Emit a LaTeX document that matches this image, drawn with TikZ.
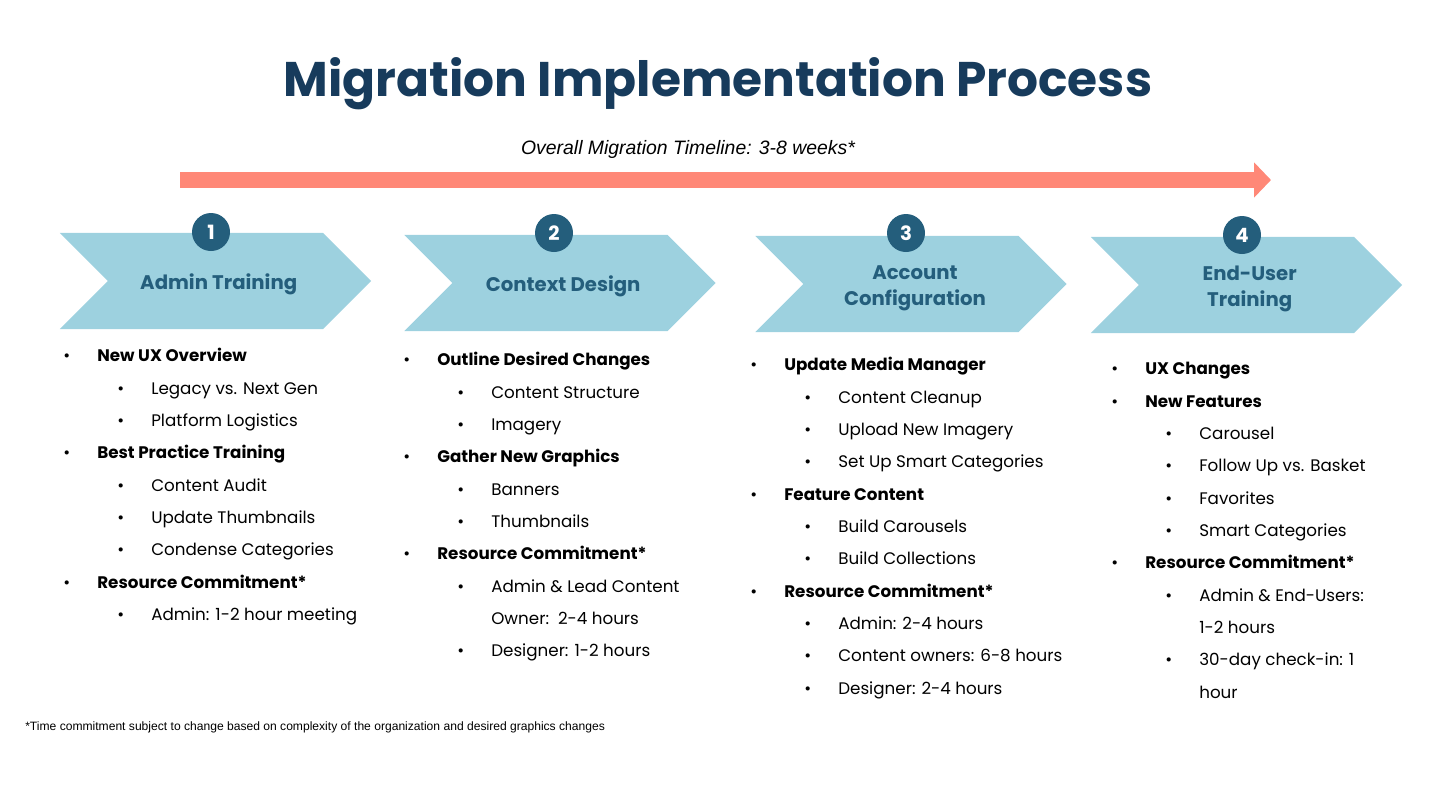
\documentclass[tikz,border=0pt]{standalone}
\usepackage{fontspec}
\setmainfont{Poppins}
\newfontfamily\arialfont{Liberation Sans}
\usetikzlibrary{arrows.meta,positioning,shapes.symbols}
\definecolor{titleblue}{HTML}{173B5C}
\definecolor{stepblue}{HTML}{245E7C}
\definecolor{chevblue}{HTML}{9DD1DF}
\definecolor{timeline}{HTML}{FF8877}
\newcommand\topitem[1]{\makebox[0.85cm][l]{\textbullet}\textbf{#1}}
\newcommand\subitm[1]{\hspace*{1.35cm}\makebox[0.85cm][l]{\textbullet}#1}
\newcommand\subcont[1]{\hspace*{2.2cm}#1}
\begin{document}
\begin{tikzpicture}[x=0.025cm,y=-0.025cm,
stage/.style={signal,signal to=east,signal from=west,fill=chevblue,minimum width=7.775cm,minimum height=2.4cm,inner sep=0pt},
stagetext/.style={text=stepblue,font=\bfseries\fontsize{14}{18.4}\selectfont,align=center,inner sep=0pt},
num/.style={circle,fill=stepblue,text=white,minimum size=0.95cm,inner sep=0pt,font=\bfseries\fontsize{14}{14}\selectfont},
list/.style={anchor=north west,align=left,inner sep=0pt,font=\fontsize{11.9}{23}\selectfont},
timearrow/.style={-{Triangle[length=0.42cm,width=0.85cm]},line width=0.4cm,draw=timeline}]
\useasboundingbox (0,0) rectangle (1440,810);
\node[text=titleblue,font=\bfseries\fontsize{34.6}{40}\selectfont] (title) at (718,84) {Migration Implementation Process};
\node[font=\arialfont\itshape\fontsize{13.8}{16}\selectfont] (overall) at (688,149) {Overall Migration Timeline: 3-8 weeks*};
\coordinate (tlstart) at (180,180);
\coordinate (tlend) at (1271,180);
\draw[timearrow] (tlstart) -- (tlend);

% the four steps
\node[stage] (admin) at (215.5,281) {};
\node[stage] (context) at (560,283) {};
\node[stage] (account) at (911,284) {};
\node[stage] (enduser) at (1246.5,285) {};
\node[stagetext] (admintext) at ([xshift=0.08cm,yshift=-0.08cm]admin.center) {Admin Training};
\node[stagetext] (contexttext) at ([xshift=0.08cm,yshift=-0.08cm]context.center) {Context Design};
\node[stagetext] (accounttext) at ([xshift=0.1cm,yshift=-0.1cm]account.center) {Account\\Configuration};
\node[stagetext] (endusertext) at ([xshift=0.08cm,yshift=-0.1cm]enduser.center) {End-User\\Training};
\node[num] (n1) at (211,232) {1};
\node[num] (n2) at (554,233) {2};
\node[num] (n3) at (906,233) {3};
\node[num] (n4) at (1242,235) {4};

% task lists
\node[list] (admintasks) at (63,348) {\topitem{New UX Overview}\\
\subitm{Legacy vs. Next Gen}\\
\subitm{Platform Logistics}\\
\topitem{Best Practice Training}\\
\subitm{Content Audit}\\
\subitm{Update Thumbnails}\\
\subitm{Condense Categories}\\
\topitem{Resource Commitment*}\\
\subitm{Admin: 1-2 hour meeting}};
\node[list] (contexttasks) at (403,352) {\topitem{Outline Desired Changes}\\
\subitm{Content Structure}\\
\subitm{Imagery}\\
\topitem{Gather New Graphics}\\
\subitm{Banners}\\
\subitm{Thumbnails}\\
\topitem{Resource Commitment*}\\
\subitm{Admin \& Lead Content}\\
\subcont{Owner:\ \ 2-4 hours}\\
\subitm{Designer: 1-2 hours}};
\node[list] (accounttasks) at (750,357) {\topitem{Update Media Manager}\\
\subitm{Content Cleanup}\\
\subitm{Upload New Imagery}\\
\subitm{Set Up Smart Categories}\\
\topitem{Feature Content}\\
\subitm{Build Carousels}\\
\subitm{Build Collections}\\
\topitem{Resource Commitment*}\\
\subitm{Admin: 2-4 hours}\\
\subitm{Content owners: 6-8 hours}\\
\subitm{Designer: 2-4 hours}};
\node[list] (endusertasks) at (1111,362) {\topitem{UX Changes}\\
\topitem{New Features}\\
\subitm{Carousel}\\
\subitm{Follow Up vs. Basket}\\
\subitm{Favorites}\\
\subitm{Smart Categories}\\
\topitem{Resource Commitment*}\\
\subitm{Admin \& End-Users:}\\
\subcont{1-2 hours}\\
\subitm{30-day check-in: 1}\\
\subcont{hour}};

\node[anchor=west,inner sep=0pt,font=\arialfont\fontsize{8.6}{10}\selectfont] (footnote) at (25,727) {*Time commitment subject to change based on complexity of the organization and desired graphics changes};
\end{tikzpicture}
\end{document}
